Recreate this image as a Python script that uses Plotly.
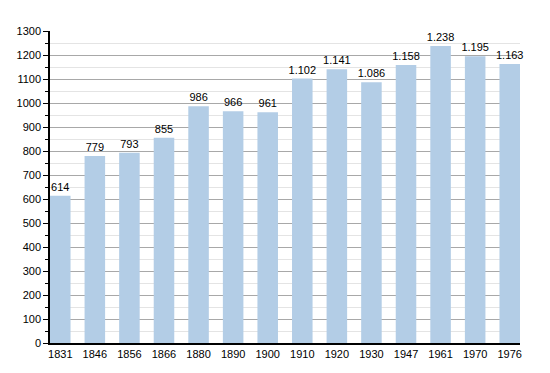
import plotly.graph_objects as go

years = ["1831", "1846", "1856", "1866", "1880", "1890", "1900", "1910", "1920", "1930", "1947", "1961", "1970", "1976"]
population = [614, 779, 793, 855, 986, 966, 961, 1102, 1141, 1086, 1158, 1238, 1195, 1163]
y_ticks = list(range(0, 1301, 100))

labels = [f"{v:,}".replace(",", ".") for v in population]

fig = go.Figure(go.Bar(
    x=years, y=population, text=labels, textposition="outside",
    textfont=dict(size=11, color="black"),
    constraintext="none",
    marker=dict(color="#b3cde6", line=dict(width=0)),
    cliponaxis=False,
))

fig.update_layout(
    width=550, height=373,
    margin=dict(l=50, r=30, t=31, b=30),
    plot_bgcolor="white", paper_bgcolor="white",
    font=dict(family="Liberation Sans, Arial, sans-serif", size=11, color="black"),
    bargap=0.406,
    showlegend=False,
)
fig.update_xaxes(
    type="category", range=[-0.297, 13.297],
    showline=True, linecolor="black", linewidth=1.5,
    ticks="", showgrid=False, tickfont=dict(size=11), automargin=False,
)
fig.update_yaxes(
    range=[0, 1300], tickvals=y_ticks, ticktext=[str(v) for v in y_ticks],
    showline=True, linecolor="black", linewidth=1.5,
    ticks="outside", ticklen=5, tickcolor="black",
    showgrid=True, gridcolor="#a8a8a8", gridwidth=1,
    minor=dict(dtick=50, ticks="outside", ticklen=3, tickcolor="black",
               showgrid=True, gridcolor="#e4e4e4", gridwidth=1),
    zeroline=False, tickfont=dict(size=11), automargin=False,
)

fig.write_html("out.html", config={"displayModeBar": False},
               post_script="document.body.style.margin='0';document.body.style.padding='0';")
